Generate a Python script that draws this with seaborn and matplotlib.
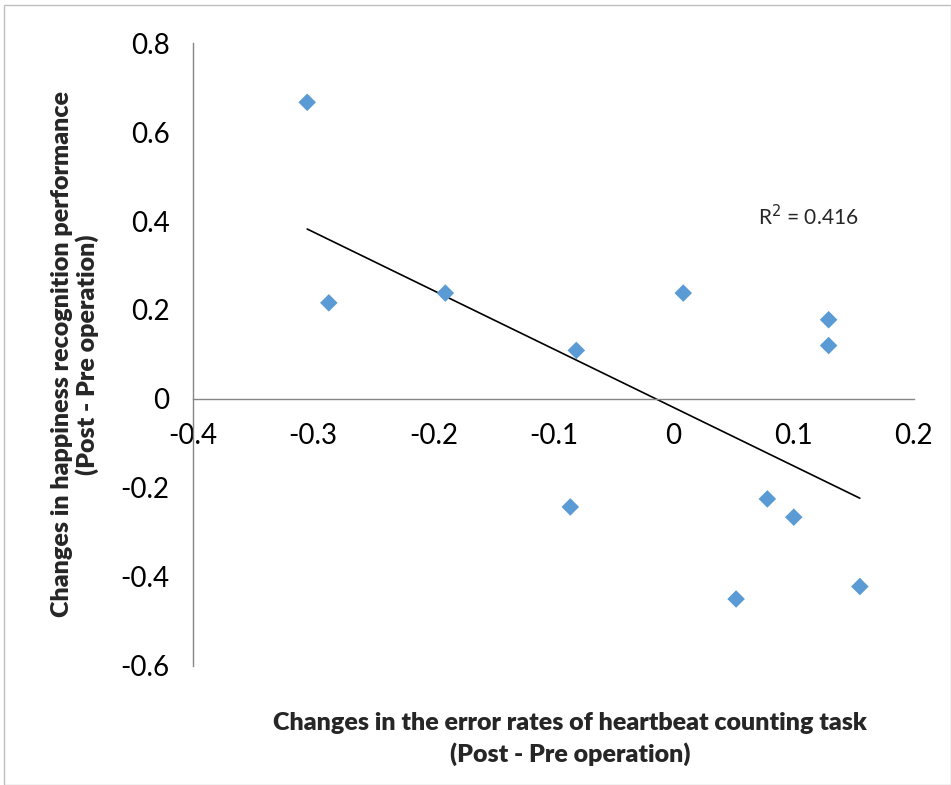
import numpy as np
import pandas as pd
import matplotlib
matplotlib.use("Agg")
import matplotlib.pyplot as plt
import seaborn as sns

# data
error_change = [-0.305, -0.287, -0.190, -0.081, 0.008, 0.129, 0.129,
                -0.086, 0.078, 0.100, 0.052, 0.155]
happy_change = [0.667, 0.216, 0.238, 0.109, 0.238, 0.178, 0.120,
                -0.243, -0.225, -0.266, -0.450, -0.422]
x_ticks = [-0.4, -0.3, -0.2, -0.1, 0, 0.1, 0.2]
y_ticks = [-0.6, -0.4, -0.2, 0, 0.2, 0.4, 0.6, 0.8]
x_tick_labels = ["-0.4", "-0.3", "-0.2", "-0.1", "0", "0.1", "0.2"]
y_tick_labels = ["-0.6", "-0.4", "-0.2", "0", "0.2", "0.4", "0.6", "0.8"]

df = pd.DataFrame({"x": error_change, "y": happy_change})

sns.set_style("white")
plt.rcParams["font.family"] = ["Lato", "DejaVu Sans"]

fig = plt.figure(figsize=(9.51, 7.85), dpi=100)
ax = fig.add_axes([0.203, 0.152, 0.758, 0.793])

sns.scatterplot(data=df, x="x", y="y", marker="D", s=80, color="#5B9BD5",
                edgecolor="none", ax=ax, zorder=3)

# linear trendline over the data range
slope, intercept = np.polyfit(df["x"], df["y"], 1)
xs = np.array([df["x"].min(), df["x"].max()])
ax.plot(xs, slope * xs + intercept, color="black", lw=1.2, zorder=2)

ax.set_xlim(-0.4, 0.2)
ax.set_ylim(-0.6, 0.8)
ax.set_xticks(x_ticks)
ax.set_xticklabels(x_tick_labels)
ax.set_yticks(y_ticks)
ax.set_yticklabels(y_tick_labels)

ax.spines["top"].set_visible(False)
ax.spines["right"].set_visible(False)
ax.spines["bottom"].set_position(("data", 0))
for s in ["left", "bottom"]:
    ax.spines[s].set_color("#868686")
    ax.spines[s].set_linewidth(1.0)
ax.tick_params(axis="both", direction="out", length=7, width=1,
               color="#868686", labelsize=20, labelcolor="black")
ax.tick_params(axis="x", pad=10)
ax.tick_params(axis="y", pad=10)

ax.text(0.07, 0.41, "R$^2$ = 0.416", fontsize=15, ha="left", va="center")

ax.set_xlabel("Changes in the error rates of heartbeat counting task\n(Post - Pre operation)",
              fontsize=18, fontweight="heavy", linespacing=1.45)
ax.set_ylabel("Changes in happiness recognition performance\n(Post - Pre operation)",
              fontsize=18, fontweight="heavy", linespacing=1.15)
ax.xaxis.set_label_coords(0.523, -0.074)
ax.yaxis.set_label_coords(-0.13, 0.5)

# chart area border
fig.patches.append(plt.Rectangle((0.004, 0.0), 0.996, 0.994, transform=fig.transFigure,
                                 fill=False, edgecolor="#BFBFBF", lw=1))

fig.savefig("out.png", dpi=100)
